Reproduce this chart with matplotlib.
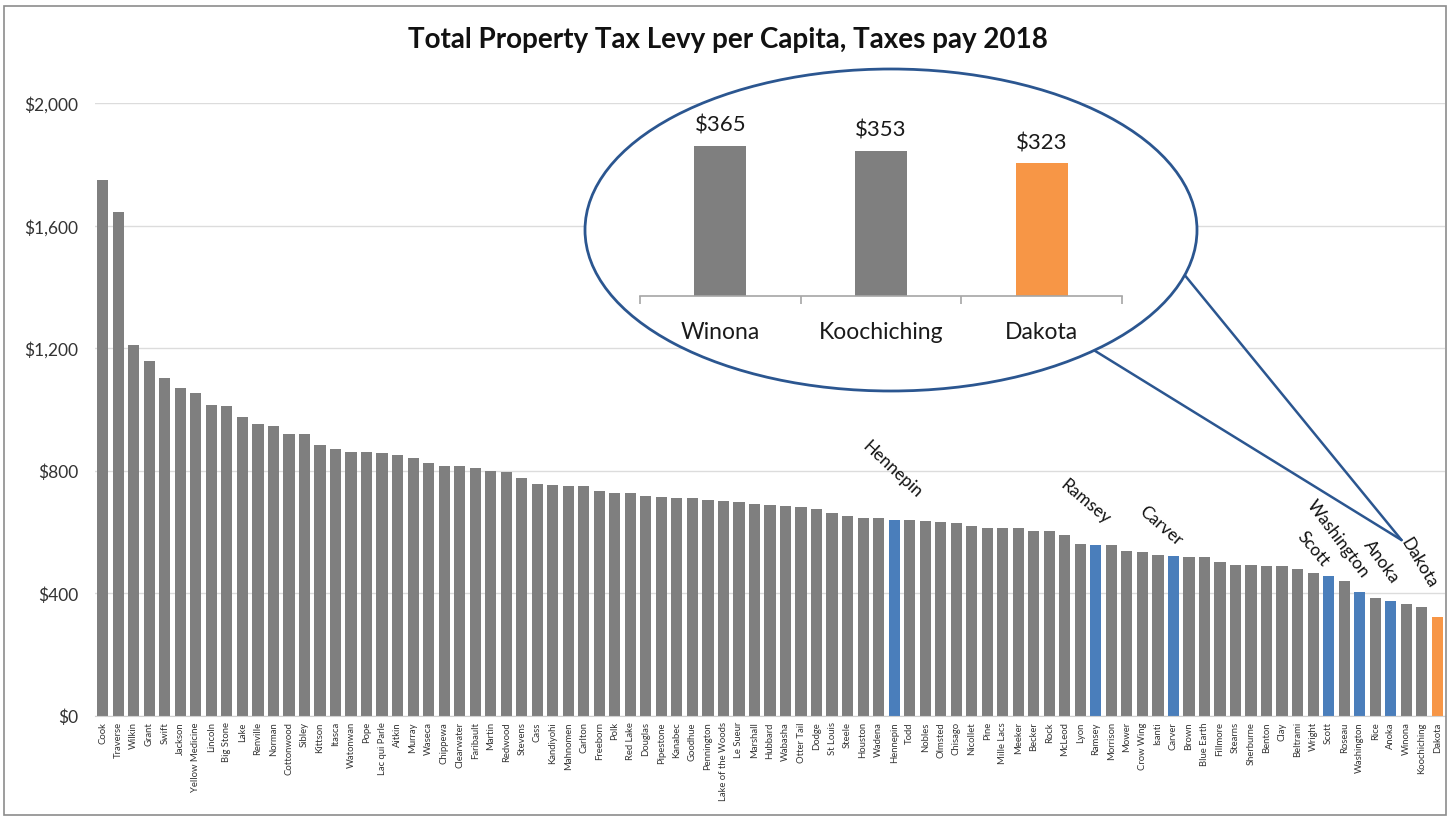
import matplotlib
matplotlib.use("Agg")
import matplotlib.pyplot as plt
from matplotlib.patches import Ellipse, Rectangle, ConnectionPatch
from matplotlib.ticker import FuncFormatter, FixedLocator

plt.rcParams['font.family'] = ['Lato', 'DejaVu Sans']

# Property tax levy per capita by county, taxes payable 2018 (sorted high to low)
counties = [
    "Cook", "Traverse", "Wilkin", "Grant", "Swift", "Jackson", "Yellow Medicine",
    "Lincoln", "Big Stone", "Lake", "Renville", "Norman", "Cottonwood", "Sibley",
    "Kittson", "Itasca", "Watonwan", "Pope", "Lac qui Parle", "Aitkin", "Murray",
    "Waseca", "Chippewa", "Clearwater", "Faribault", "Martin", "Redwood", "Stevens",
    "Cass", "Kandiyohi", "Mahnomen", "Carlton", "Freeborn", "Polk", "Red Lake",
    "Douglas", "Pipestone", "Kanabec", "Goodhue", "Pennington", "Lake of the Woods",
    "Le Sueur", "Marshall", "Hubbard", "Wabasha", "Otter Tail", "Dodge", "St Louis",
    "Steele", "Houston", "Wadena", "Hennepin", "Todd", "Nobles", "Olmsted", "Chisago",
    "Nicollet", "Pine", "Mille Lacs", "Meeker", "Becker", "Rock", "McLeod", "Lyon",
    "Ramsey", "Morrison", "Mower", "Crow Wing", "Isanti", "Carver", "Brown",
    "Blue Earth", "Fillmore", "Stearns", "Sherburne", "Benton", "Clay", "Beltrami",
    "Wright", "Scott", "Roseau", "Washington", "Rice", "Anoka", "Winona",
    "Koochiching", "Dakota",
]
levy = [
    1748, 1644, 1211, 1157, 1103, 1070, 1053,
    1014, 1010, 974, 952, 944, 919, 918,
    882, 872, 861, 860, 857, 852, 842,
    826, 814, 814, 808, 799, 795, 777,
    757, 753, 749, 748, 733, 728, 727,
    716, 715, 711, 710, 704, 700,
    697, 691, 689, 685, 681, 676, 662,
    653, 645, 644, 637, 637, 635, 632, 628,
    620, 613, 612, 612, 604, 603, 589, 561,
    558, 557, 536, 533, 523, 520, 519,
    517, 500, 493, 492, 489, 488, 478,
    466, 457, 440, 403, 383, 375, 365,
    353, 323,
]
metro_counties = ["Hennepin", "Ramsey", "Carver", "Scott", "Washington", "Anoka"]
focus_county = "Dakota"
inset_counties = ["Winona", "Koochiching", "Dakota"]
y_ticks = [0, 400, 800, 1200, 1600, 2000]

GRAY = "#7f7f7f"
BLUE = "#4a7ebb"
ORANGE = "#f79646"
NAVY = "#2b5690"

W, H = 1450, 820
fig = plt.figure(figsize=(W / 100, H / 100), dpi=100)

# outer frame
fig.add_artist(Rectangle((4 / W, 4 / H), 1442 / W, 809 / H, transform=fig.transFigure,
                         fill=False, edgecolor="#8c8c8c", linewidth=1.2, zorder=5))

fig.text(728 / W, 1 - 40 / H, "Total Property Tax Levy per Capita, Taxes pay 2018",
         ha="center", va="center", fontsize=20, fontweight="bold", color="#111111")

# main chart
ax = fig.add_axes([95 / W, 1 - 716.6 / H, 1350 / W, (716.6 - 104) / H])
ax.set_zorder(0)


def bar_color(name):
    if name == focus_county:
        return ORANGE
    if name in metro_counties:
        return BLUE
    return GRAY


xs = list(range(len(counties)))
ax.bar(xs, levy, width=0.72, color=[bar_color(c) for c in counties], zorder=2)
ax.set_xlim(-0.5, len(counties) - 0.5)
ax.set_ylim(0, 2000)
ax.yaxis.set_major_locator(FixedLocator(y_ticks))
ax.yaxis.set_major_formatter(FuncFormatter(lambda v, p: f"${v:,.0f}"))
ax.grid(axis="y", color="#dcdcdc", linewidth=1.0, zorder=0)
ax.set_axisbelow(True)
for s in ["top", "right", "left"]:
    ax.spines[s].set_visible(False)
ax.spines["bottom"].set_color("#d0d0d0")
ax.tick_params(axis="y", length=0, pad=12, labelsize=12.5, labelcolor="#333333")
ax.set_xticks(xs)
ax.set_xticklabels(counties, rotation=90, fontsize=6.8, color="#333333")
ax.tick_params(axis="x", length=0, pad=4)

# county call-outs: (name, x offset, y offset, angle)
callouts = [
    ("Hennepin", -0.1, 168, -43),
    ("Ramsey", -0.7, 143, -40),
    ("Carver", -0.8, 103, -41),
    ("Washington", -1.4, 175, -53),
    ("Scott", -1.0, 90, -50),
    ("Anoka", -0.6, 130, -54),
    ("Dakota", -1.2, 179, -59),
]
for name, dx, dy, ang in callouts:
    i = counties.index(name)
    ax.text(i + dx, levy[i] + dy, name, rotation=ang, rotation_mode="anchor",
            ha="center", va="center", fontsize=12.5, color="#111111", zorder=3)

# magnifier ellipse
ell = Ellipse((891 / W, 1 - 231 / H), 612 / W, 322 / H, transform=fig.transFigure,
              facecolor="white", edgecolor=NAVY, linewidth=2.0, zorder=1)
fig.add_artist(ell)

# connector lines from the ellipse to the Dakota label
di = counties.index(focus_county)
tip = (di - 2.3, levy[di] + 250)
for start in [(1147 / W, 1 - 230 / H), (1011 / W, 1 - 300 / H)]:
    con = ConnectionPatch(xyA=start, coordsA=fig.transFigure, xyB=tip, coordsB=ax.transData,
                          color=NAVY, linewidth=1.8, zorder=0.5)
    fig.add_artist(con)

# inset bars
inset_vals = [levy[counties.index(c)] for c in inset_counties]
inset_cols = [bar_color(c) for c in inset_counties]
y_top = 400
scale = 0.411
axi = fig.add_axes([640 / W, 1 - 297 / H, 482 / W, y_top * scale / H])
axi.set_zorder(2)
axi.patch.set_visible(False)
axi.bar(range(3), inset_vals, width=0.325, color=inset_cols)
axi.set_xlim(-0.5, 2.5)
axi.set_ylim(0, y_top)
for s in ["top", "right", "left"]:
    axi.spines[s].set_visible(False)
axi.spines["bottom"].set_color("#a6a6a6")
axi.spines["bottom"].set_linewidth(1.2)
axi.set_yticks([])
axi.set_xticks(range(3))
axi.set_xticklabels(inset_counties, fontsize=16.5, color="#1a1a1a")
axi.tick_params(axis="x", length=0, pad=18)
axi.set_xticks([-0.5, 0.5, 1.5, 2.5], minor=True)
axi.tick_params(axis="x", which="minor", length=6, color="#a6a6a6", width=1.2)
for k, v in enumerate(inset_vals):
    axi.annotate(f"${v}", (k, v), xytext=(0, 8), textcoords="offset points",
                 ha="center", va="bottom", fontsize=16, color="#1a1a1a")

fig.savefig("out.png", dpi=100)
